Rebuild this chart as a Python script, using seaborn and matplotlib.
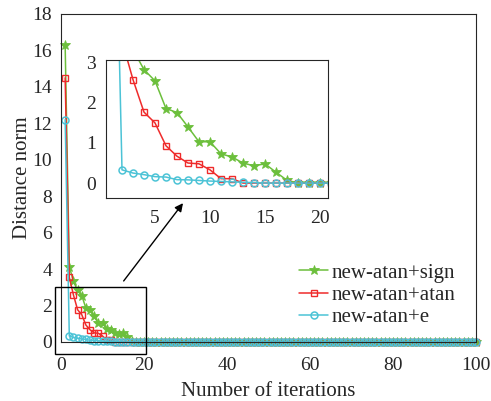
import matplotlib
matplotlib.use("Agg")
import matplotlib.pyplot as plt
import seaborn as sns
import pandas as pd
from matplotlib.patches import Rectangle

# ---- data ----
iterations = list(range(1, 101))
sign_head = [16.3, 4.14, 3.33, 2.83, 2.55, 1.86, 1.76, 1.40, 1.03, 1.03,
             0.73, 0.65, 0.50, 0.43, 0.48, 0.27, 0.07]
atan_head = [14.5, 3.55, 2.58, 1.77, 1.50, 0.93, 0.67, 0.50, 0.48, 0.33,
             0.11, 0.11]
e_head = [12.2, 0.33, 0.25, 0.21, 0.16, 0.15, 0.085, 0.08, 0.065, 0.05,
          0.04, 0.03, 0.02, 0.01]
sign_vals = sign_head + [0.0] * (100 - len(sign_head))
atan_vals = atan_head + [0.0] * (100 - len(atan_head))
e_vals = e_head + [0.0] * (100 - len(e_head))
series_names = ["new-atan+sign", "new-atan+atan", "new-atan+e"]
x_ticks = [0, 20, 40, 60, 80, 100]
y_ticks = [0, 2, 4, 6, 8, 10, 12, 14, 16, 18]
inset_x_ticks = [5, 10, 15, 20]
inset_y_ticks = [0, 1, 2, 3]

df = pd.DataFrame({
    "iter": iterations * 3,
    "value": sign_vals + atan_vals + e_vals,
    "series": [series_names[0]] * 100 + [series_names[1]] * 100 + [series_names[2]] * 100,
})

sns.set_style("white")
plt.rcParams["font.family"] = ["Liberation Serif", "DejaVu Serif"]
plt.rcParams["axes.edgecolor"] = "#262626"
plt.rcParams["axes.linewidth"] = 0.8

styles = {
    series_names[0]: dict(color="#6cbf3c", marker="*", markersize=7.5,
                          markerfacecolor="#6cbf3c", markeredgecolor="#6cbf3c", markeredgewidth=0.6),
    series_names[1]: dict(color="#ef2b2b", marker="s", markersize=4.6,
                          markerfacecolor="none", markeredgecolor="#ef2b2b", markeredgewidth=1.0),
    series_names[2]: dict(color="#4cc3d6", marker="o", markersize=5.0,
                          markerfacecolor="none", markeredgecolor="#4cc3d6", markeredgewidth=1.1),
}

fig = plt.figure(figsize=(4.91, 4.01), dpi=100)
ax = fig.add_axes([61 / 491, 1 - 342 / 401, (476 - 61) / 491, (342 - 14) / 401])

for name in series_names:
    sub = df[df["series"] == name]
    sns.lineplot(data=sub, x="iter", y="value", ax=ax, label=name,
                 linewidth=1.1, clip_on=False, **styles[name])

ax.set_xlim(0, 100)
ax.set_ylim(0, 18)
ax.set_xticks(x_ticks)
ax.set_yticks(y_ticks)
ax.tick_params(direction="in", length=4, width=0.8, labelsize=14, color="#262626")
ax.tick_params(axis="x", pad=11)
ax.tick_params(axis="y", pad=6.5)
ax.set_xlabel("Number of iterations", fontsize=15, labelpad=5.5)
ax.set_ylabel("Distance norm", fontsize=15, labelpad=0.5)

# zoom rectangle and arrow
ax.add_patch(Rectangle((-1.44, -0.66), 21.84, 3.66, fill=False, ec="black",
                       lw=1.0, clip_on=False, zorder=5))
ax.annotate("", xy=(29.4, 7.62), xytext=(15.1, 3.35),
            arrowprops=dict(arrowstyle="-|>", color="black", lw=1.0,
                            mutation_scale=12, shrinkA=0, shrinkB=0))

leg = ax.legend(loc="center left", bbox_to_anchor=(299 / 491, 1 - 295 / 401),
                bbox_transform=fig.transFigure, frameon=False, fontsize=15,
                labelspacing=0.12, handlelength=1.4, handletextpad=0.15,
                borderpad=0, borderaxespad=0)

# inset
ins = fig.add_axes([105.5 / 491, 1 - 197.5 / 401, (328 - 105.5) / 491, (197.5 - 60) / 401])
for name in series_names:
    sub = df[(df["series"] == name) & (df["iter"] <= 21)]
    sns.lineplot(data=sub, x="iter", y="value", ax=ins, legend=False,
                 linewidth=1.1, **styles[name])
ins.set_xlim(0.5, 20.73)
ins.set_ylim(-0.36, 3.07)
ins.set_xticks(inset_x_ticks)
ins.set_yticks(inset_y_ticks)
ins.tick_params(direction="in", length=4, width=0.8, labelsize=14, color="#262626")
ins.tick_params(axis="x", pad=9)
ins.tick_params(axis="y", pad=7)
ins.set_xlabel("")
ins.set_ylabel("")

fig.savefig("out.png", dpi=100)
